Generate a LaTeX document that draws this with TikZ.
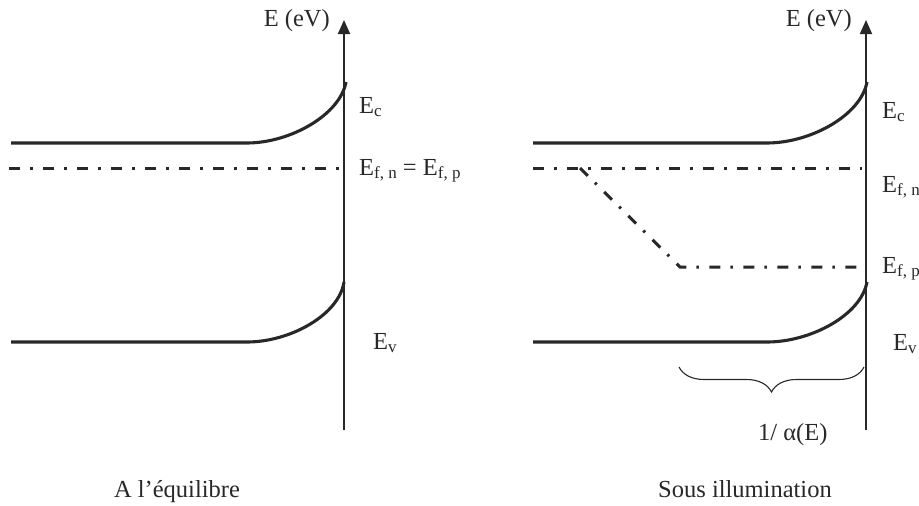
\documentclass[tikz,border=0pt]{standalone}
\usepackage{fontspec}
\setmainfont{Liberation Serif}
\usetikzlibrary{arrows.meta,decorations.pathreplacing}
\definecolor{ink}{RGB}{40,40,40}
\newcommand{\subsm}[1]{\raisebox{-0.3ex}{\fontsize{17}{19}\selectfont #1}}
\begin{document}
\begin{tikzpicture}[x=1pt,y=-1pt,
  band/.style={line width=3.1pt, draw=ink},
  fermi/.style={line width=3pt, draw=ink, dash pattern=on 11pt off 10pt on 2.5pt off 10.5pt},
  axis/.style={line width=1.8pt, draw=ink, fill=ink, -{Triangle[width=12pt,length=14pt]}},
  bracestyle/.style={line width=1.1pt, draw=ink, decorate, decoration={brace, amplitude=25pt}},
  lbl/.style={anchor=base west, inner sep=0pt, text=ink, font=\fontsize{24.5}{29}\selectfont},
  ttl/.style={anchor=base, inner sep=0pt, text=ink, font=\fontsize{24.5}{29}\selectfont}]
\useasboundingbox (0,0) rectangle (919,506);

% ---------- left panel ----------
\coordinate (LA0) at (344,430);
\coordinate (LA1) at (344,20);
\draw[axis] (LA0) -- (LA1);
\node[lbl, anchor=base east] (LE) at (330,27) {E (eV)};

\coordinate (LC0) at (11,143);
\coordinate (LC1) at (247,143);
\coordinate (LC2) at (346,82);
\draw[band] (LC0) -- (LC1) .. controls (290,143) and (340,115) .. (LC2);

\coordinate (LV0) at (11,342);
\coordinate (LV1) at (247,342);
\coordinate (LV2) at (344,282);
\draw[band] (LV0) -- (LV1) .. controls (290,342) and (339,315) .. (LV2);

\coordinate (LF0) at (9,168);
\coordinate (LF1) at (340,168);
\draw[fermi] (LF0) -- (LF1);

\node[lbl] (LEc) at (359,113) {E\subsm{c}};
\node[lbl] (LEf) at (359,175) {E\subsm{f, n} = E\subsm{f, p}};
\node[lbl] (LEv) at (373,349) {E\subsm{v}};
\node[ttl] (Ltitle) at (177,497) {A l’équilibre};

% ---------- right panel ----------
\coordinate (RA0) at (866,430);
\coordinate (RA1) at (866,20);
\draw[axis] (RA0) -- (RA1);
\node[lbl, anchor=base east] (RE) at (852,27) {E (eV)};

\coordinate (RC0) at (533,143);
\coordinate (RC1) at (767,143);
\coordinate (RC2) at (867,82);
\draw[band] (RC0) -- (RC1) .. controls (811,143) and (861,115) .. (RC2);

\coordinate (RV0) at (533,342);
\coordinate (RV1) at (767,342);
\coordinate (RV2) at (867,282);
\draw[band] (RV0) -- (RV1) .. controls (811,342) and (861,315) .. (RV2);

\coordinate (RFn0) at (533,168);
\coordinate (RFn1) at (862,168);
\draw[fermi] (RFn0) -- (RFn1);

\coordinate (RFp0) at (580,168);
\coordinate (RFp1) at (680,267);
\coordinate (RFp2) at (862,267);
\draw[fermi] (RFp0) -- (RFp1) -- (RFp2);

\coordinate (RB0) at (864,367);
\coordinate (RB1) at (679,367);
\draw[bracestyle] (RB0) -- (RB1);

\node[lbl] (REc) at (882,118) {E\subsm{c}};
\node[lbl] (REfn) at (882,192) {E\subsm{f, n}};
\node[lbl] (REfp) at (882,273) {E\subsm{f, p}};
\node[lbl] (REv) at (893,350) {E\subsm{v}};
\node[lbl] (Ralpha) at (758,440) {1/ α(E)};
\node[ttl] (Rtitle) at (745,497) {Sous illumination};
\end{tikzpicture}
\end{document}
